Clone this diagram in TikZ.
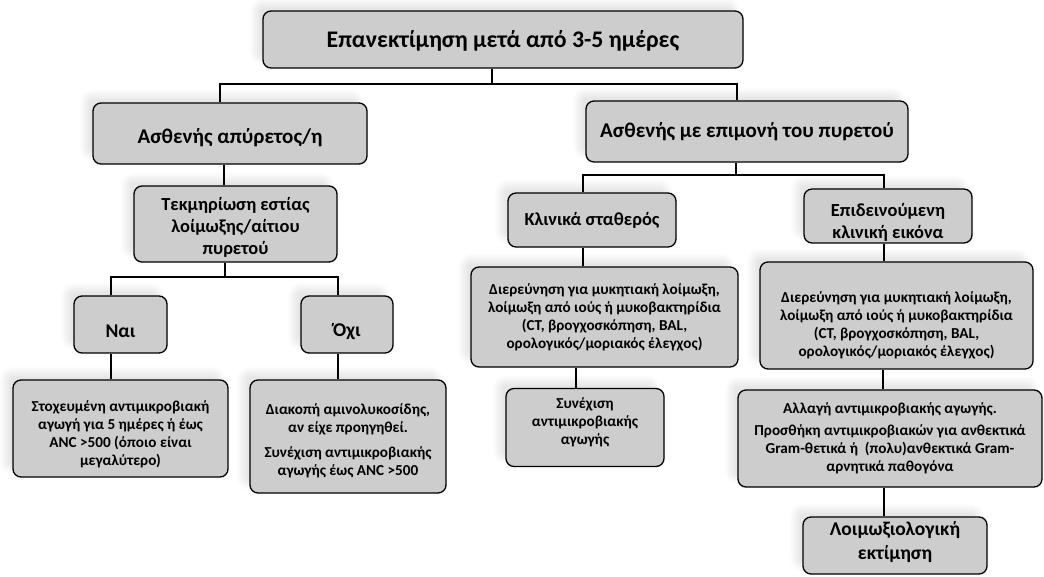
\documentclass[tikz,border=0pt]{standalone}
\usepackage{fontspec}
\setmainfont{Carlito}
\usetikzlibrary{shadows.blur}
\definecolor{boxgray}{RGB}{205,205,205}
\newcommand\pushdn[1]{\rule{0pt}{#1}}
\newcommand\pushup[1]{\rule[-#1]{0pt}{0pt}}
\tikzset{
  box/.style={draw=black, line width=1.3pt, rounded corners=8pt, fill=boxgray,
    align=center, inner sep=2pt, font=\bfseries,
    blur shadow={shadow xshift=-8pt, shadow yshift=8pt, shadow opacity=10, shadow blur radius=6pt, shadow blur steps=8}},
  conn/.style={draw=black, line width=1.3pt},
  fA/.style={font=\bfseries\fontsize{23.8}{28}\selectfont},
  fB/.style={font=\bfseries\fontsize{21}{25}\selectfont},
  fL/.style={font=\bfseries\fontsize{19.5}{24}\selectfont},
  fC/.style={font=\bfseries\fontsize{18.4}{22}\selectfont},
  fD/.style={font=\bfseries\fontsize{15.2}{18}\selectfont},
}
\begin{document}
\begin{tikzpicture}[x=1pt,y=-1pt]
\useasboundingbox (0,0) rectangle (1044,576);
\coordinate (b1L) at (220,84);
\coordinate (b1M) at (492,84);
\coordinate (b1R) at (737,84);
\coordinate (b2L) at (111,277);
\coordinate (b2M) at (225,277);
\coordinate (b2R) at (338,277);
\coordinate (b3L) at (583,175);
\coordinate (b3M) at (736,175);
\coordinate (b3R) at (884,175);
\node[box, fA, minimum width=480pt, minimum height=57pt] (top) at (503,39.5) {\pushdn{20pt}Επανεκτίμηση μετά από 3-5 ημέρες};
\node[box, fB, minimum width=274pt, minimum height=61pt] (A) at (230,133.5) {\pushdn{23pt}Ασθενής απύρετος/η};
\node[box, fB, minimum width=322pt, minimum height=61pt] (B) at (747,131.5) {Ασθενής με επιμονή του πυρετού};
\node[box, fC, minimum width=203pt, minimum height=76pt] (C) at (235.5,224) {\pushdn{20pt}Τεκμηρίωση εστίας\\λοίμωξης/αίτιου\\πυρετού};
\node[box, fL, minimum width=93pt, minimum height=57pt] (nai) at (120.5,324.5) {\pushdn{27pt}Ναι};
\node[box, fL, minimum width=92pt, minimum height=57pt] (oxi) at (347,324.5) {\pushdn{27pt}Όχι};
\node[box, fD, minimum width=215pt, minimum height=97pt] (stox) at (120.5,428.5) {\pushdn{22pt}Στοχευμένη αντιμικροβιακή\\αγωγή για 5 ημέρες ή έως\\ANC >500 (όποιο είναι\\μεγαλύτερο)};
\node[box, fD, minimum width=196pt, minimum height=113pt] (diak) at (348,436.5) {\pushdn{19pt}Διακοπή αμινολυκοσίδης,\\αν είχε προηγηθεί.\\[7pt]Συνέχιση αντιμικροβιακής\\αγωγής έως ANC >500};
\node[box, fC, minimum width=168pt, minimum height=54pt] (klin) at (592,220) {Κλινικά σταθερός};
\node[box, fC, minimum width=168pt, minimum height=46pt] (epid) at (888,216) {\pushdn{25pt}Επιδεινούμενη\\κλινική εικόνα};
\node[box, fD, minimum width=267pt, minimum height=100pt] (dierL) at (604.5,317) {Διερεύνηση για μυκητιακή λοίμωξη,\\λοίμωξη από ιούς ή μυκοβακτηρίδια\\(CT, βρογχοσκόπηση, BAL,\\ορολογικός/μοριακός έλεγχος)};
\node[box, fD, minimum width=273pt, minimum height=107pt] (dierR) at (896.5,315.5) {\pushdn{31pt}Διερεύνηση για μυκητιακή λοίμωξη,\\λοίμωξη από ιούς ή μυκοβακτηρίδια\\(CT, βρογχοσκόπηση, BAL,\\ορολογικός/μοριακός έλεγχος)};
\node[box, fD, minimum width=158pt, minimum height=78pt] (syn) at (585,427.5) {Συνέχιση\\αντιμικροβιακής\\αγωγής\pushup{13pt}};
\node[box, fD, minimum width=304pt, minimum height=97pt] (allag) at (890,438.5) {Αλλαγή αντιμικροβιακής αγωγής.\\[4pt]Προσθήκη αντιμικροβιακών για ανθεκτικά\\Gram-θετικά ή~ (πολυ)ανθεκτικά Gram-\\αρνητικά παθογόνα};
\node[box, fL, minimum width=184pt, minimum height=57pt] (loim) at (895,545.5) {Λοιμωξιολογική\\εκτίμηση\pushup{9pt}};
\draw[conn] (top.south -| b1M) -- (b1M);
\draw[conn] (A.north -| b1L) -- (b1L) -- (b1R) -- (B.north -| b1R);
\draw[conn] (A.south -| 224,0) -- (C.north -| 224,0);
\draw[conn] (C.south -| b2M) -- (b2M);
\draw[conn] (nai.north -| b2L) -- (b2L) -- (b2R) -- (oxi.north -| b2R);
\draw[conn] (nai.south -| b2L) -- (stox.north -| b2L);
\draw[conn] (oxi.south -| b2R) -- (diak.north -| b2R);
\draw[conn] (B.south -| b3M) -- (b3M);
\draw[conn] (klin.north -| b3L) -- (b3L) -- (b3R) -- (epid.north -| b3R);
\draw[conn] (klin.south -| b3L) -- (dierL.north -| b3L);
\draw[conn] (epid.south -| b3R) -- (dierR.north -| b3R);
\draw[conn] (dierL.south -| 576,0) -- (syn.north -| 576,0);
\draw[conn] (dierR.south -| 883,0) -- (allag.north -| 883,0);
\draw[conn] (allag.south -| 884,0) -- (loim.north -| 884,0);
\end{tikzpicture}
\end{document}
